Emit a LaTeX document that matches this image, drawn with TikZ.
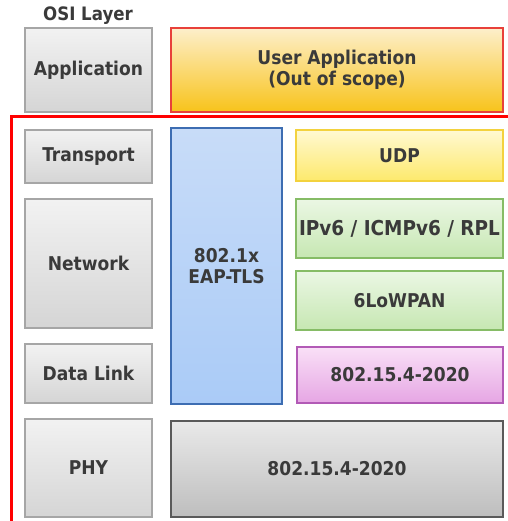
\documentclass[tikz,border=0pt]{standalone}
\usepackage{fontspec}
\setmainfont{DejaVu Sans Condensed}
\usetikzlibrary{shadows}
\definecolor{txt}{HTML}{3A3A3A}
\definecolor{grayT}{HTML}{F2F2F2}
\definecolor{grayB}{HTML}{D5D5D5}
\definecolor{grayL}{HTML}{A6A6A6}
\definecolor{orT}{HTML}{FDEFCB}
\definecolor{orB}{HTML}{F8C31A}
\definecolor{orL}{HTML}{E8413A}
\definecolor{blT}{HTML}{C8DCF8}
\definecolor{blB}{HTML}{AACBF7}
\definecolor{blL}{HTML}{3D6DB2}
\definecolor{yeT}{HTML}{FFF9D2}
\definecolor{yeB}{HTML}{FDE96C}
\definecolor{yeL}{HTML}{F3D23E}
\definecolor{grT}{HTML}{EBF7E4}
\definecolor{grB}{HTML}{C6E7B2}
\definecolor{grL}{HTML}{86BC66}
\definecolor{piT}{HTML}{F9E0F7}
\definecolor{piB}{HTML}{E6A6E4}
\definecolor{piL}{HTML}{B25AB6}
\definecolor{phT}{HTML}{E9E9E9}
\definecolor{phB}{HTML}{BEBEBE}
\definecolor{phL}{HTML}{5A5A5A}
\tikzset{
  base/.style={rectangle, inner sep=0pt, outer sep=0pt, anchor=north west,
    font=\fontsize{19}{21}\selectfont\bfseries, text=txt, align=center,
    line width=1.2pt,
    drop shadow={opacity=0.25, shadow xshift=1.2pt, shadow yshift=-1.2pt}},
  graybox/.style={base, draw=grayL, top color=grayT, bottom color=grayB},
  orbox/.style={base, draw=orL, top color=orT, bottom color=orB},
  bluebox/.style={base, draw=blL, top color=blT, bottom color=blB},
  yelbox/.style={base, draw=yeL, top color=yeT, bottom color=yeB},
  grnbox/.style={base, draw=grL, top color=grT, bottom color=grB},
  pinkbox/.style={base, draw=piL, top color=piT, bottom color=piB},
  phybox/.style={base, draw=phL, top color=phT, bottom color=phB},
  frame/.style={draw=red, line width=3pt}
}
\begin{document}
\begin{tikzpicture}[x=1pt,y=-1pt]
\useasboundingbox (0,0) rectangle (507,521);
% red frame
\draw[frame] (11,540) -- (11,117) -- (530,117);
\node[font=\fontsize{18.5}{21}\selectfont\bfseries, text=txt] (osi) at (88,16) {OSI Layer};
% OSI column
\node[graybox, minimum width=127pt, minimum height=84pt] (app) at (25,28) {Application};
\node[graybox, minimum width=127pt, minimum height=53pt] (tra) at (25,130) {Transport};
\node[graybox, minimum width=127pt, minimum height=129pt] (net) at (25,199) {Network};
\node[graybox, minimum width=127pt, minimum height=59pt] (dl) at (25,344) {Data Link};
\node[graybox, minimum width=127pt, minimum height=98pt] (phy) at (25,419) {PHY};
% stack
\node[orbox, minimum width=332pt, minimum height=84pt] (user) at (171,28) {User Application\\(Out of scope)};
\node[bluebox, minimum width=111pt, minimum height=276pt] (eap) at (171,128) {802.1x\\EAP-TLS};
\node[yelbox, minimum width=207pt, minimum height=51pt] (udp) at (296,130) {UDP};
\node[grnbox, minimum width=207pt, minimum height=59pt, font=\fontsize{20.5}{21}\selectfont\bfseries] (ipv6) at (296,199) {IPv6 / ICMPv6 / RPL};
\node[grnbox, minimum width=207pt, minimum height=59pt] (low) at (296,271) {6LoWPAN};
\node[pinkbox, minimum width=206pt, minimum height=56pt] (mac) at (297,347) {802.15.4-2020};
\node[phybox, minimum width=332pt, minimum height=96pt] (phy2) at (171,421) {802.15.4-2020};
\end{tikzpicture}
\end{document}
